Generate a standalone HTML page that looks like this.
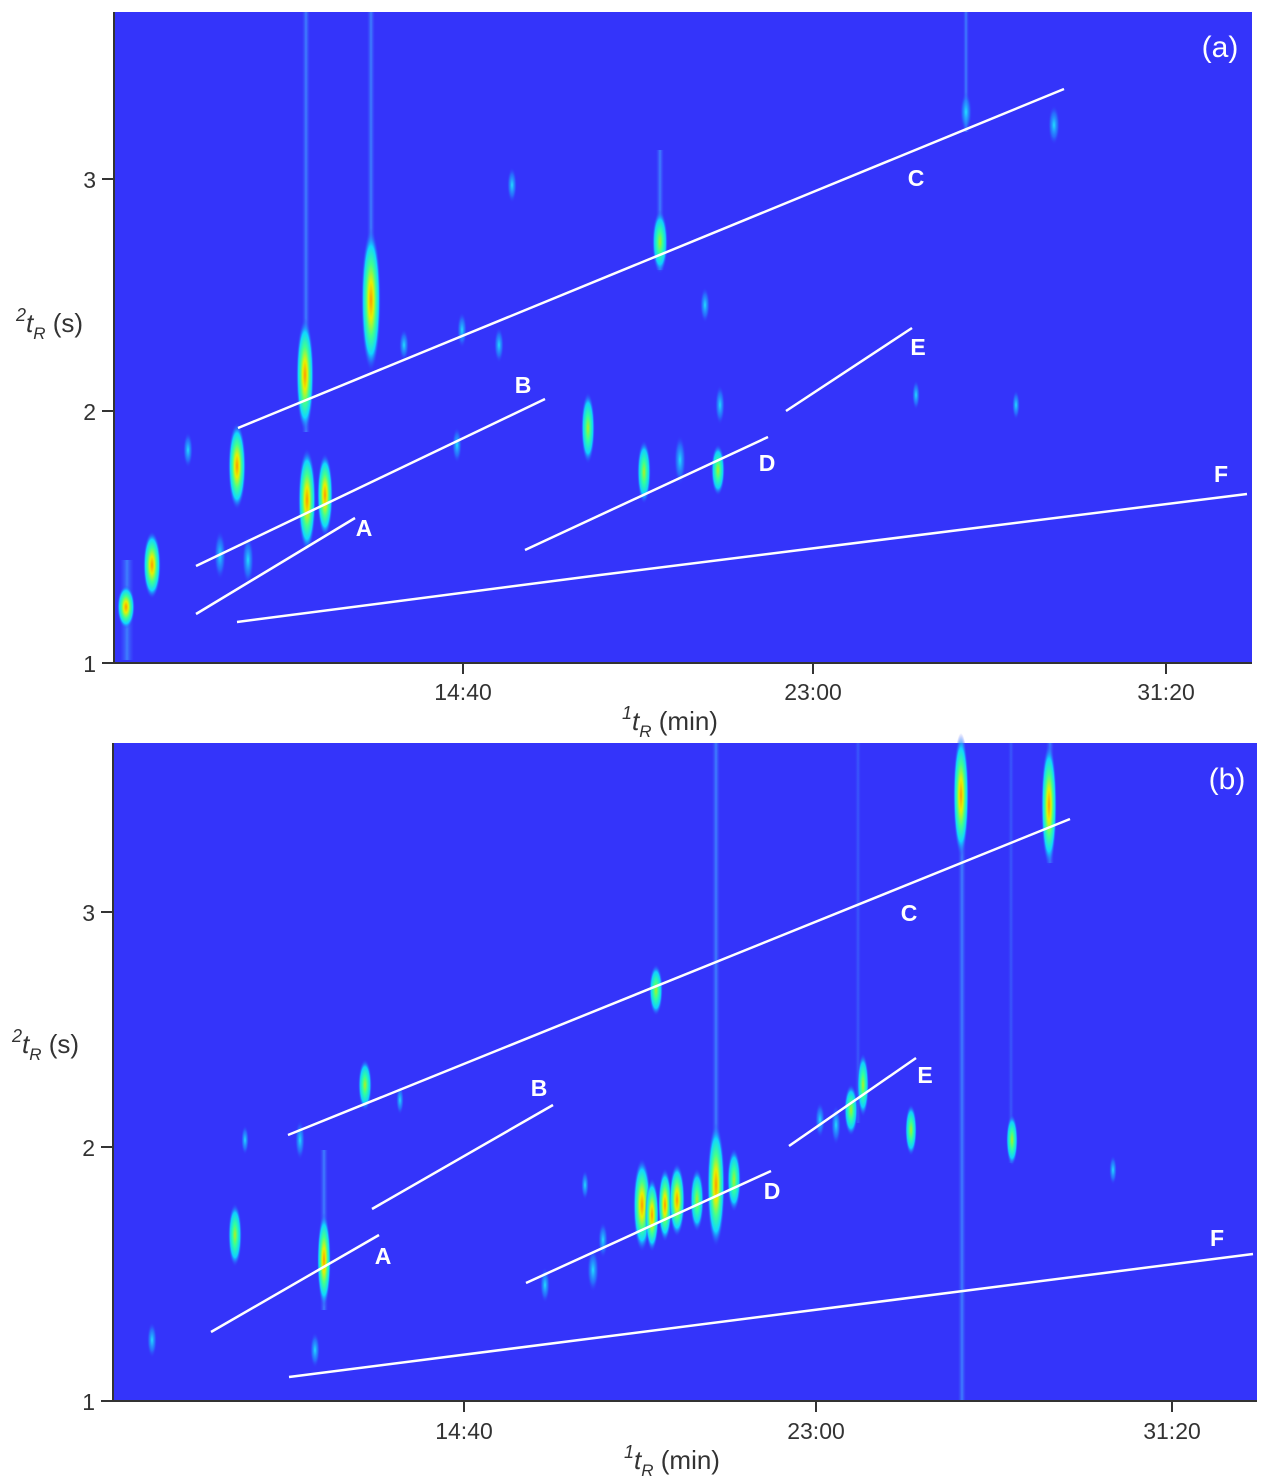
<!DOCTYPE html>
<html><head><meta charset="utf-8"><style>
body{margin:0;background:#fff;}
svg{display:block;font-family:"Liberation Sans",sans-serif;}
</style></head><body>
<svg width="1266" height="1481" viewBox="0 0 1266 1481" xmlns="http://www.w3.org/2000/svg">
<defs>
<radialGradient id="h"><stop offset="0" stop-color="#ff9a00"/><stop offset="0.25" stop-color="#e8f000"/><stop offset="0.5" stop-color="#40ff90"/><stop offset="0.75" stop-color="#10d8ff"/><stop offset="1" stop-color="#3434fa" stop-opacity="0"/></radialGradient>
<radialGradient id="g"><stop offset="0" stop-color="#b0f020"/><stop offset="0.35" stop-color="#30ffa0"/><stop offset="0.7" stop-color="#10d0ff"/><stop offset="1" stop-color="#3434fa" stop-opacity="0"/></radialGradient>
<radialGradient id="c"><stop offset="0" stop-color="#20e0ff"/><stop offset="0.6" stop-color="#2090ff" stop-opacity="0.6"/><stop offset="1" stop-color="#3434fa" stop-opacity="0"/></radialGradient>
<linearGradient id="st" x1="0" x2="1"><stop offset="0" stop-color="#4060ff" stop-opacity="0"/><stop offset="0.5" stop-color="#40a0ff" stop-opacity="0.7"/><stop offset="1" stop-color="#4060ff" stop-opacity="0"/></linearGradient>
</defs>

<!-- Panel A -->
<rect x="114" y="12" width="1138" height="651" fill="#3434fa"/>
<g>
<rect x="302" y="12" width="8" height="420" fill="url(#st)"/>
<rect x="367" y="12" width="8" height="300" fill="url(#st)"/>
<rect x="963" y="12" width="6" height="120" fill="url(#st)"/>
<rect x="656" y="150" width="8" height="120" fill="url(#st)"/>
<rect x="120" y="560" width="14" height="100" fill="url(#st)"/>
<ellipse cx="126" cy="607" rx="9" ry="22" fill="url(#h)"/>
<ellipse cx="152" cy="565" rx="9" ry="34" fill="url(#h)"/>
<ellipse cx="237" cy="466" rx="9" ry="44" fill="url(#h)"/>
<ellipse cx="305" cy="375" rx="9" ry="57" fill="url(#h)"/>
<ellipse cx="307" cy="500" rx="9" ry="52" fill="url(#h)"/>
<ellipse cx="325" cy="495" rx="8" ry="42" fill="url(#h)"/>
<ellipse cx="371" cy="300" rx="10" ry="72" fill="url(#h)"/>
<ellipse cx="588" cy="428" rx="7" ry="36" fill="url(#g)"/>
<ellipse cx="660" cy="242" rx="8" ry="32" fill="url(#g)"/>
<ellipse cx="718" cy="470" rx="7" ry="26" fill="url(#g)"/>
<ellipse cx="644" cy="472" rx="7" ry="32" fill="url(#g)"/>
<ellipse cx="680" cy="460" rx="6" ry="25" fill="url(#c)"/>
<ellipse cx="966" cy="112" rx="6" ry="20" fill="url(#c)"/>
<ellipse cx="1054" cy="125" rx="6" ry="20" fill="url(#c)"/>
<ellipse cx="705" cy="305" rx="5" ry="18" fill="url(#c)"/>
<ellipse cx="512" cy="185" rx="5" ry="18" fill="url(#c)"/>
<ellipse cx="499" cy="345" rx="5" ry="18" fill="url(#c)"/>
<ellipse cx="462" cy="330" rx="5" ry="18" fill="url(#c)"/>
<ellipse cx="720" cy="405" rx="5" ry="20" fill="url(#c)"/>
<ellipse cx="248" cy="560" rx="6" ry="25" fill="url(#c)"/>
<ellipse cx="220" cy="555" rx="6" ry="25" fill="url(#c)"/>
<ellipse cx="188" cy="450" rx="5" ry="18" fill="url(#c)"/>
<ellipse cx="457" cy="445" rx="5" ry="18" fill="url(#c)"/>
<ellipse cx="404" cy="345" rx="5" ry="16" fill="url(#c)"/>
<ellipse cx="916" cy="395" rx="4" ry="15" fill="url(#c)"/>
<ellipse cx="1016" cy="405" rx="4" ry="15" fill="url(#c)"/>
</g>
<g stroke="#fff" stroke-width="2.5" fill="none">
<line x1="238" y1="428" x2="1064" y2="89"/>
<line x1="196" y1="566" x2="545" y2="399"/>
<line x1="196" y1="614" x2="355" y2="518"/>
<line x1="525" y1="550" x2="768" y2="437"/>
<line x1="786" y1="411" x2="912" y2="328"/>
<polyline points="237,622 600,575 1247,494"/>
</g>
<g fill="#fff" font-weight="bold" font-size="23" text-anchor="middle">
<text x="364" y="536">A</text><text x="523" y="393">B</text><text x="916" y="186">C</text>
<text x="767" y="471">D</text><text x="918" y="355">E</text><text x="1221" y="482">F</text>
</g>
<text x="1220" y="57" fill="#fff" font-size="30" text-anchor="middle">(a)</text>
<g stroke="#333" stroke-width="2"><line x1="114" y1="12" x2="114" y2="663"/><line x1="114" y1="663" x2="1252" y2="663"/>
<line x1="102" y1="179" x2="114" y2="179"/><line x1="102" y1="411" x2="114" y2="411"/><line x1="102" y1="663" x2="114" y2="663"/>
<line x1="463" y1="663" x2="463" y2="674"/><line x1="813" y1="663" x2="813" y2="674"/><line x1="1166" y1="663" x2="1166" y2="674"/></g>
<g fill="#333" font-size="23">
<text x="96" y="188" text-anchor="end">3</text><text x="96" y="420" text-anchor="end">2</text><text x="96" y="672" text-anchor="end">1</text>
<text x="463" y="700" text-anchor="middle">14:40</text><text x="813" y="700" text-anchor="middle">23:00</text><text x="1166" y="700" text-anchor="middle">31:20</text>
</g>
<g fill="#333" font-size="26">
<text x="16" y="332"><tspan font-size="18" dy="-11" font-style="italic">2</tspan><tspan dy="11" font-style="italic">t</tspan><tspan font-size="17" dy="7" font-style="italic">R</tspan><tspan dy="-7"> (s)</tspan></text>
<text x="622" y="730"><tspan font-size="18" dy="-11" font-style="italic">1</tspan><tspan dy="11" font-style="italic">t</tspan><tspan font-size="17" dy="7" font-style="italic">R</tspan><tspan dy="-7"> (min)</tspan></text>
</g>

<!-- Panel B -->
<rect x="114" y="743" width="1143" height="658" fill="#3434fa"/>
<g>
<rect x="958" y="743" width="8" height="658" fill="url(#st)"/>
<rect x="1046" y="743" width="8" height="120" fill="url(#st)"/>
<rect x="712" y="743" width="8" height="480" fill="url(#st)"/>
<rect x="320" y="1150" width="8" height="160" fill="url(#st)"/>
<rect x="1008" y="743" width="6" height="420" fill="url(#st)" opacity="0.5"/>
<rect x="855" y="743" width="6" height="380" fill="url(#st)" opacity="0.5"/>
<ellipse cx="961" cy="795" rx="8" ry="62" fill="url(#h)"/>
<ellipse cx="1049" cy="805" rx="8" ry="62" fill="url(#h)"/>
<ellipse cx="324" cy="1260" rx="7" ry="47" fill="url(#h)"/>
<ellipse cx="235" cy="1235" rx="7" ry="32" fill="url(#g)"/>
<ellipse cx="642" cy="1205" rx="9" ry="47" fill="url(#h)"/>
<ellipse cx="652" cy="1215" rx="7" ry="37" fill="url(#h)"/>
<ellipse cx="665" cy="1205" rx="7" ry="37" fill="url(#h)"/>
<ellipse cx="677" cy="1200" rx="8" ry="37" fill="url(#h)"/>
<ellipse cx="697" cy="1200" rx="7" ry="32" fill="url(#g)"/>
<ellipse cx="716" cy="1185" rx="9" ry="62" fill="url(#h)"/>
<ellipse cx="734" cy="1180" rx="7" ry="32" fill="url(#g)"/>
<ellipse cx="656" cy="990" rx="7" ry="26" fill="url(#g)"/>
<ellipse cx="365" cy="1085" rx="7" ry="26" fill="url(#g)"/>
<ellipse cx="851" cy="1110" rx="7" ry="26" fill="url(#g)"/>
<ellipse cx="863" cy="1085" rx="6" ry="32" fill="url(#g)"/>
<ellipse cx="911" cy="1130" rx="6" ry="26" fill="url(#g)"/>
<ellipse cx="1012" cy="1140" rx="6" ry="26" fill="url(#g)"/>
<ellipse cx="593" cy="1270" rx="6" ry="22" fill="url(#c)"/>
<ellipse cx="603" cy="1240" rx="5" ry="18" fill="url(#c)"/>
<ellipse cx="545" cy="1285" rx="5" ry="18" fill="url(#c)"/>
<ellipse cx="585" cy="1185" rx="4" ry="15" fill="url(#c)"/>
<ellipse cx="836" cy="1125" rx="5" ry="20" fill="url(#c)"/>
<ellipse cx="820" cy="1120" rx="5" ry="18" fill="url(#c)"/>
<ellipse cx="152" cy="1340" rx="5" ry="18" fill="url(#c)"/>
<ellipse cx="300" cy="1140" rx="5" ry="20" fill="url(#c)"/>
<ellipse cx="315" cy="1350" rx="5" ry="18" fill="url(#c)"/>
<ellipse cx="245" cy="1140" rx="4" ry="15" fill="url(#c)"/>
<ellipse cx="1113" cy="1170" rx="4" ry="15" fill="url(#c)"/>
<ellipse cx="400" cy="1100" rx="4" ry="15" fill="url(#c)"/>
</g>
<g stroke="#fff" stroke-width="2.5" fill="none">
<line x1="288" y1="1135" x2="1070" y2="819"/>
<line x1="372" y1="1209" x2="553" y2="1105"/>
<line x1="211" y1="1332" x2="379" y2="1235"/>
<line x1="526" y1="1283" x2="771" y2="1171"/>
<line x1="789" y1="1146" x2="916" y2="1058"/>
<line x1="289" y1="1377" x2="1253" y2="1254"/>
</g>
<g fill="#fff" font-weight="bold" font-size="23" text-anchor="middle">
<text x="383" y="1264">A</text><text x="539" y="1096">B</text><text x="909" y="921">C</text>
<text x="772" y="1199">D</text><text x="925" y="1083">E</text><text x="1217" y="1246">F</text>
</g>
<text x="1227" y="789" fill="#fff" font-size="30" text-anchor="middle">(b)</text>
<g stroke="#333" stroke-width="2"><line x1="113" y1="743" x2="113" y2="1401"/><line x1="113" y1="1401" x2="1257" y2="1401"/>
<line x1="101" y1="912" x2="113" y2="912"/><line x1="101" y1="1147" x2="113" y2="1147"/><line x1="101" y1="1401" x2="113" y2="1401"/>
<line x1="464" y1="1401" x2="464" y2="1412"/><line x1="816" y1="1401" x2="816" y2="1412"/><line x1="1172" y1="1401" x2="1172" y2="1412"/></g>
<g fill="#333" font-size="23">
<text x="95" y="921" text-anchor="end">3</text><text x="95" y="1156" text-anchor="end">2</text><text x="95" y="1410" text-anchor="end">1</text>
<text x="464" y="1439" text-anchor="middle">14:40</text><text x="816" y="1439" text-anchor="middle">23:00</text><text x="1172" y="1439" text-anchor="middle">31:20</text>
</g>
<g fill="#333" font-size="26">
<text x="12" y="1053"><tspan font-size="18" dy="-11" font-style="italic">2</tspan><tspan dy="11" font-style="italic">t</tspan><tspan font-size="17" dy="7" font-style="italic">R</tspan><tspan dy="-7"> (s)</tspan></text>
<text x="624" y="1469"><tspan font-size="18" dy="-11" font-style="italic">1</tspan><tspan dy="11" font-style="italic">t</tspan><tspan font-size="17" dy="7" font-style="italic">R</tspan><tspan dy="-7"> (min)</tspan></text>
</g>
</svg>
</body></html>
